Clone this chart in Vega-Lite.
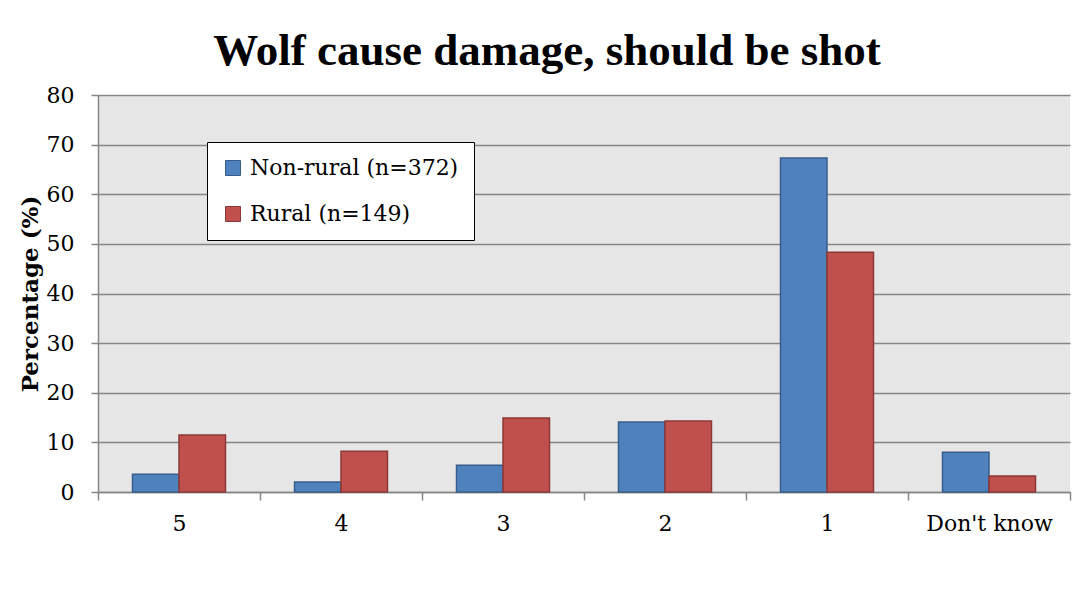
{
  "$schema": "https://vega.github.io/schema/vega-lite/v6.json",
  "autosize": "none",
  "width": 972,
  "height": 397,
  "padding": {"left": 98, "top": 95, "right": 7, "bottom": 97},
  "background": "white",
  "title": {
    "text": "Wolf cause damage, should be shot",
    "font": "Liberation Serif",
    "fontSize": 45,
    "fontWeight": "bold",
    "color": "black",
    "anchor": "middle",
    "dx": -37,
    "baseline": "alphabetic",
    "offset": -26
  },
  "config": {
    "view": {"fill": "#e6e6e6", "stroke": null},
    "font": "DejaVu Serif"
  },
  "data": {
    "values": [
      {"rating": "5", "group": "Non-rural (n=372)", "pct": 3.6},
      {"rating": "5", "group": "Rural (n=149)", "pct": 11.5},
      {"rating": "4", "group": "Non-rural (n=372)", "pct": 2.0},
      {"rating": "4", "group": "Rural (n=149)", "pct": 8.2},
      {"rating": "3", "group": "Non-rural (n=372)", "pct": 5.4},
      {"rating": "3", "group": "Rural (n=149)", "pct": 14.9},
      {"rating": "2", "group": "Non-rural (n=372)", "pct": 14.1},
      {"rating": "2", "group": "Rural (n=149)", "pct": 14.3},
      {"rating": "1", "group": "Non-rural (n=372)", "pct": 67.3},
      {"rating": "1", "group": "Rural (n=149)", "pct": 48.3},
      {"rating": "Don't know", "group": "Non-rural (n=372)", "pct": 8.0},
      {"rating": "Don't know", "group": "Rural (n=149)", "pct": 3.2}
    ]
  },
  "mark": {"type": "bar", "strokeWidth": 1.5},
  "encoding": {
    "x": {
      "field": "rating",
      "type": "nominal",
      "sort": ["5", "4", "3", "2", "1", "Don't know"],
      "scale": {"paddingInner": 0, "paddingOuter": 0},
      "axis": {
        "title": null,
        "labelAngle": 0,
        "labelFont": "DejaVu Serif",
        "labelFontSize": 22,
        "labelColor": "black",
        "labelPadding": 13,
        "tickBand": "extent",
        "tickSize": 8,
        "tickColor": "#868686",
        "tickWidth": 1.5,
        "domainColor": "#868686",
        "domainWidth": 1.5,
        "grid": false
      }
    },
    "xOffset": {
      "field": "group",
      "type": "nominal",
      "scale": {"paddingInner": 0, "paddingOuter": 0.742}
    },
    "y": {
      "field": "pct",
      "type": "quantitative",
      "scale": {"domain": [0, 80], "nice": false},
      "axis": {
        "title": "Percentage (%)",
        "titleFont": "DejaVu Serif",
        "titleFontSize": 23,
        "titleFontWeight": "bold",
        "titleColor": "black",
        "titlePadding": 4,
        "values": [0, 10, 20, 30, 40, 50, 60, 70, 80],
        "labelFont": "DejaVu Serif",
        "labelFontSize": 22,
        "labelColor": "black",
        "labelPadding": 17,
        "tickSize": 7,
        "tickColor": "#868686",
        "tickWidth": 1.5,
        "domainColor": "#868686",
        "domainWidth": 1.5,
        "gridColor": "#868686",
        "gridWidth": 1.5
      }
    },
    "fill": {
      "field": "group",
      "type": "nominal",
      "scale": {
        "domain": ["Non-rural (n=372)", "Rural (n=149)"],
        "range": ["#4f81bd", "#c0504d"]
      },
      "legend": {
        "title": null,
        "orient": "none",
        "legendX": 109,
        "legendY": 47,
        "padding": 15,
        "strokeColor": "black",
        "fillColor": "white",
        "symbolType": "square",
        "symbolSize": 225,
        "symbolStrokeWidth": 1,
        "labelFont": "DejaVu Serif",
        "labelFontSize": 22,
        "labelColor": "black",
        "labelOffset": 6,
        "rowPadding": 24,
        "labelLimit": 400
      }
    },
    "stroke": {
      "field": "group",
      "type": "nominal",
      "scale": {
        "domain": ["Non-rural (n=372)", "Rural (n=149)"],
        "range": ["#385d8a", "#8c3836"]
      },
      "legend": null
    }
  }
}
